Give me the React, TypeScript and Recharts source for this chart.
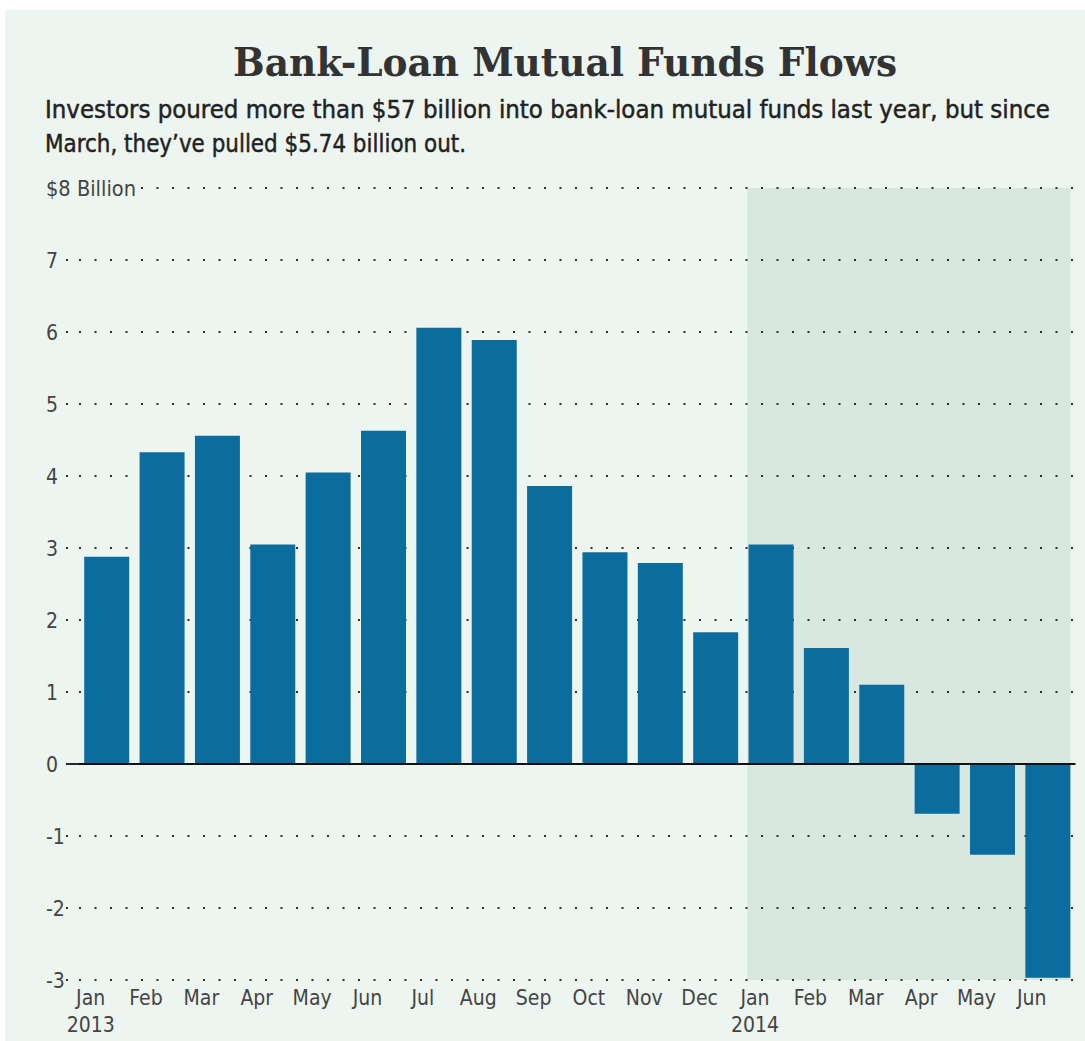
import React from 'react';
import { BarChart, Bar, XAxis, YAxis, CartesianGrid, ReferenceArea, ReferenceLine } from 'recharts';

const periods = ['2013-01','2013-02','2013-03','2013-04','2013-05','2013-06','2013-07','2013-08','2013-09','2013-10','2013-11','2013-12','2014-01','2014-02','2014-03','2014-04','2014-05','2014-06'];
const monthLabels = ['Jan','Feb','Mar','Apr','May','Jun','Jul','Aug','Sep','Oct','Nov','Dec','Jan','Feb','Mar','Apr','May','Jun'];
const yearLabels = ['2013','','','','','','','','','','','','2014','','','','',''];
const flows = [2.88, 4.33, 4.56, 3.05, 4.05, 4.63, 6.06, 5.89, 3.86, 2.94, 2.79, 1.83, 3.05, 1.61, 1.10, -0.69, -1.26, -2.97];
const yTicks = [-3, -2, -1, 0, 1, 2, 3, 4, 5, 6, 7, 8];
const topTickLabel = '$8 Billion';
const shadedStart = '2014-01';
const shadedEnd = '2014-06';

const title = 'Bank-Loan Mutual Funds Flows';
const subtitle1 = 'Investors poured more than $57 billion into bank-loan mutual funds last year, but since';
const subtitle2 = 'March, they\u2019ve pulled $5.74 billion out.';

const data = periods.map((p, i) => ({ period: p, month: monthLabels[i], year: yearLabels[i], flow: flows[i] }));

const BG = '#edf5f0';
const SHADE = '#d8e7df';
const BAR = '#0b6d9e';
const DOT = '#2e2e2e';
const SANS = "'DejaVu Sans Condensed', 'Liberation Sans Narrow', 'DejaVu Sans', sans-serif";
const DASH = '2 13.5';
const LABEL = '#444';

const YTick = (props: any) => {
  const { x, y, payload } = props;
  const v = payload.value;
  const isTop = v === yTicks[yTicks.length - 1];
  const label = isTop ? topTickLabel : String(v);
  const textX = x - 33;
  return (
    <g>
      {isTop && <rect x={x - 1} y={y - 12} width={60} height={24} fill={BG} />}
      <text x={textX} y={y} dy="0.36em" textAnchor="start" fontFamily={SANS} fontSize={21} fill={LABEL}
        {...(isTop ? { textLength: 90, lengthAdjust: 'spacingAndGlyphs' } : {})}>{label}</text>
      {!isTop && v !== 0 && (
        <line x1={x - 13} x2={x} y1={y} y2={y} stroke={DOT} strokeWidth={2} strokeDasharray="2 11" />
      )}
      {v === 0 && <line x1={x - 13} x2={x} y1={y} y2={y} stroke="#111" strokeWidth={1.8} />}
    </g>
  );
};

const XTick = (props: any) => {
  const { x, y, index } = props;
  const cx = x - 16;
  return (
    <g>
      <text x={cx} y={y + 25} textAnchor="middle" fontFamily={SANS} fontSize={21} fill={LABEL}>{monthLabels[index]}</text>
      {yearLabels[index] && (
        <text x={cx} y={y + 52} textAnchor="middle" fontFamily={SANS} fontSize={21} fill={LABEL}>{yearLabels[index]}</text>
      )}
    </g>
  );
};

const ShadeShape = (p: any) => (
  <rect x={p.x + 4} y={p.y} width={p.width - 9} height={p.height} fill={SHADE} />
);

export default function App() {
  return (
    <div style={{ position: 'absolute', left: 0, top: 0, width: 1085, height: 1041, background: '#fff', overflow: 'hidden' }}>
      <div style={{ position: 'absolute', left: 5, top: 10, width: 1080, height: 1031, background: BG }} />
      <svg width={1085} height={170} style={{ position: 'absolute', left: 0, top: 0 }}>
        <text x={233} y={76} textLength={664} lengthAdjust="spacingAndGlyphs" fontFamily="'DejaVu Serif', serif"
          fontWeight="bold" fontSize={39} fill="#333">{title}</text>
        <text x={45} y={118} textLength={1005} lengthAdjust="spacingAndGlyphs" fontFamily={SANS}
          fontSize={25} fill="#222" stroke="#222" strokeWidth={0.45}>{subtitle1}</text>
        <text x={45} y={152} textLength={421} lengthAdjust="spacingAndGlyphs" fontFamily={SANS}
          fontSize={25} fill="#222" stroke="#222" strokeWidth={0.45}>{subtitle2}</text>
      </svg>
      <div style={{ position: 'absolute', left: 0, top: 0 }}>
        <BarChart width={1085} height={1041} data={data} barCategoryGap="9.4%"
          margin={{ top: 188, right: 9.5, bottom: 0, left: 0 }}>
          <ReferenceArea x1={shadedStart} x2={shadedEnd} fill={SHADE} fillOpacity={1} stroke="none"
            shape={ShadeShape} ifOverflow="extendDomain" zIndex={-150} />
          <CartesianGrid vertical={false} stroke={DOT} strokeWidth={2} strokeDasharray={DASH} />
          <XAxis dataKey="period" height={61} axisLine={false} tickLine={false} tickSize={0} tickMargin={0}
            interval={0} tick={<XTick />} />
          <YAxis width={79} domain={[-3, 8]} ticks={yTicks} interval={0} axisLine={false} tickLine={false}
            tickSize={0} tickMargin={0} tick={<YTick />} allowDataOverflow />
          <Bar dataKey="flow" fill={BAR} isAnimationActive={false} />
          <ReferenceLine y={0} stroke="#111" strokeWidth={1.8} />
        </BarChart>
      </div>
    </div>
  );
}
